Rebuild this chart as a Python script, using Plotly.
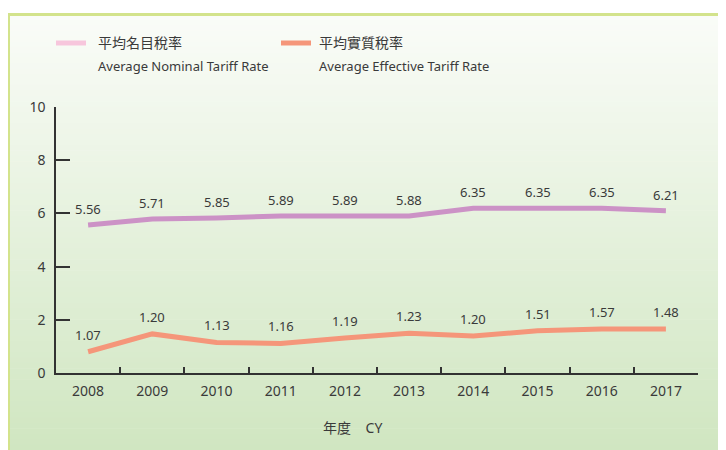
import plotly.graph_objects as go

years = ["2008", "2009", "2010", "2011", "2012", "2013", "2014", "2015", "2016", "2017"]
nominal_values = [5.56, 5.79, 5.83, 5.90, 5.90, 5.90, 6.19, 6.19, 6.19, 6.10]
effective_values = [0.80, 1.47, 1.15, 1.11, 1.32, 1.49, 1.39, 1.59, 1.65, 1.65]
nominal_labels = ["5.56", "5.71", "5.85", "5.89", "5.89", "5.88", "6.35", "6.35", "6.35", "6.21"]
effective_labels = ["1.07", "1.20", "1.13", "1.16", "1.19", "1.23", "1.20", "1.51", "1.57", "1.48"]
y_ticks = [0, 2, 4, 6, 8, 10]

# page has an 8px body margin -> figure is offset by 8px
OFF = 8
VW, VH = 726, 450
W, H = VW - OFF, VH - OFF
# plot area in viewport pixels: x 56..698, y 107..373
PL, PR, PT, PB = 56, 698, 107, 373
ML, MR, MT, MB = PL - OFF, VW - PR, PT - OFF, VH - PB
PW, PH = PR - PL, PB - PT

FONT = "Noto Sans, Noto Sans CJK TC, sans-serif"
TXT = "#3a3a3a"
NOM_C = "#cc92c6"
EFF_C = "#f5967a"
NOM_LEG = "#f7c6dc"


def px(x):
    return (x - PL) / PW


def py(y):
    return (PB - y) / PH


fig = go.Figure()
fig.add_trace(go.Scatter(x=years, y=nominal_values, mode="lines",
                         line=dict(color=NOM_C, width=5), showlegend=False,
                         hoverinfo="skip"))
fig.add_trace(go.Scatter(x=years, y=effective_values, mode="lines",
                         line=dict(color=EFF_C, width=5), showlegend=False,
                         hoverinfo="skip"))

annotations = []
for i, (v, t) in enumerate(zip(nominal_values, nominal_labels)):
    annotations.append(dict(x=i, y=v, text=t, showarrow=False, yshift=16,
                            font=dict(size=13, color=TXT, family=FONT)))
for i, (v, t) in enumerate(zip(effective_values, effective_labels)):
    annotations.append(dict(x=i, y=v, text=t, showarrow=False, yshift=17,
                            font=dict(size=13, color=TXT, family=FONT)))

# axis title
annotations.append(dict(xref="paper", yref="paper", x=px(352), y=py(427),
                        text="年度\u00a0\u00a0\u00a0\u00a0CY", showarrow=False,
                        xanchor="center", yanchor="middle",
                        font=dict(size=14, color=TXT, family=FONT)))

# custom legend
legend_items = [("平均名目稅率", "Average Nominal Tariff Rate", NOM_LEG, 54, 88, 96),
                ("平均實質稅率", "Average Effective Tariff Rate", EFF_C, 279, 313, 317)]
shapes = []

# gradient background
top, bot = 14, VH
n = 80
c0 = (250, 252, 248)
c1 = (208, 230, 193)
for i in range(n):
    f = i / (n - 1)
    col = "rgb(%d,%d,%d)" % tuple(round(c0[k] + (c1[k] - c0[k]) * f) for k in range(3))
    y0 = top + (bot - top) * i / n
    y1 = top + (bot - top) * (i + 1) / n + 0.6
    shapes.append(dict(type="rect", xref="paper", yref="paper", layer="below",
                       x0=px(7), x1=px(VW + 2), y0=py(y0), y1=py(y1),
                       fillcolor=col, line=dict(width=0)))
# border
shapes.append(dict(type="line", xref="paper", yref="paper", layer="below",
                   x0=px(8), x1=px(VW + 2), y0=py(14.5), y1=py(14.5),
                   line=dict(color="#d3e38c", width=3)))
shapes.append(dict(type="line", xref="paper", yref="paper", layer="below",
                   x0=px(8.5), x1=px(8.5), y0=py(14.5), y1=py(VH + 2),
                   line=dict(color="#d3e38c", width=3)))

for zh, en, col, lx0, lx1, tx in legend_items:
    shapes.append(dict(type="line", xref="paper", yref="paper",
                       x0=px(lx0 + 2), x1=px(lx1 - 2), y0=py(43), y1=py(43),
                       line=dict(color=col, width=5)))
    annotations.append(dict(xref="paper", yref="paper", x=px(tx), y=py(42),
                            text=zh, showarrow=False, xanchor="left", yanchor="middle",
                            font=dict(size=14, color=TXT, family=FONT)))
    annotations.append(dict(xref="paper", yref="paper", x=px(tx), y=py(66),
                            text=en, showarrow=False, xanchor="left", yanchor="middle",
                            font=dict(size=13, color=TXT, family=FONT)))

fig.update_layout(
    width=W, height=H,
    margin=dict(l=ML, r=MR, t=MT, b=MB, pad=0),
    paper_bgcolor="white",
    plot_bgcolor="rgba(0,0,0,0)",
    font=dict(family=FONT, color=TXT, size=13),
    shapes=shapes,
    annotations=annotations,
    showlegend=False,
)
fig.update_xaxes(type="category", range=[-0.5, len(years) - 0.5],
                 tickson="boundaries", ticks="inside",
                 ticklen=6, tickwidth=1.5, tickcolor="#333",
                 showline=True, linecolor="#333", linewidth=1.5,
                 showgrid=False, zeroline=False, tickangle=0,
                 tickfont=dict(size=14, color=TXT, family=FONT),
                 ticklabelstandoff=4)
fig.update_yaxes(range=[0, 10], tickvals=y_ticks, ticks="inside",
                 ticklen=14, tickwidth=1.5, tickcolor="#333",
                 showline=True, linecolor="#333", linewidth=1.5,
                 showgrid=False, zeroline=False,
                 tickfont=dict(size=14, color=TXT, family=FONT),
                 ticklabelstandoff=6)

fig.write_html("out.html")
